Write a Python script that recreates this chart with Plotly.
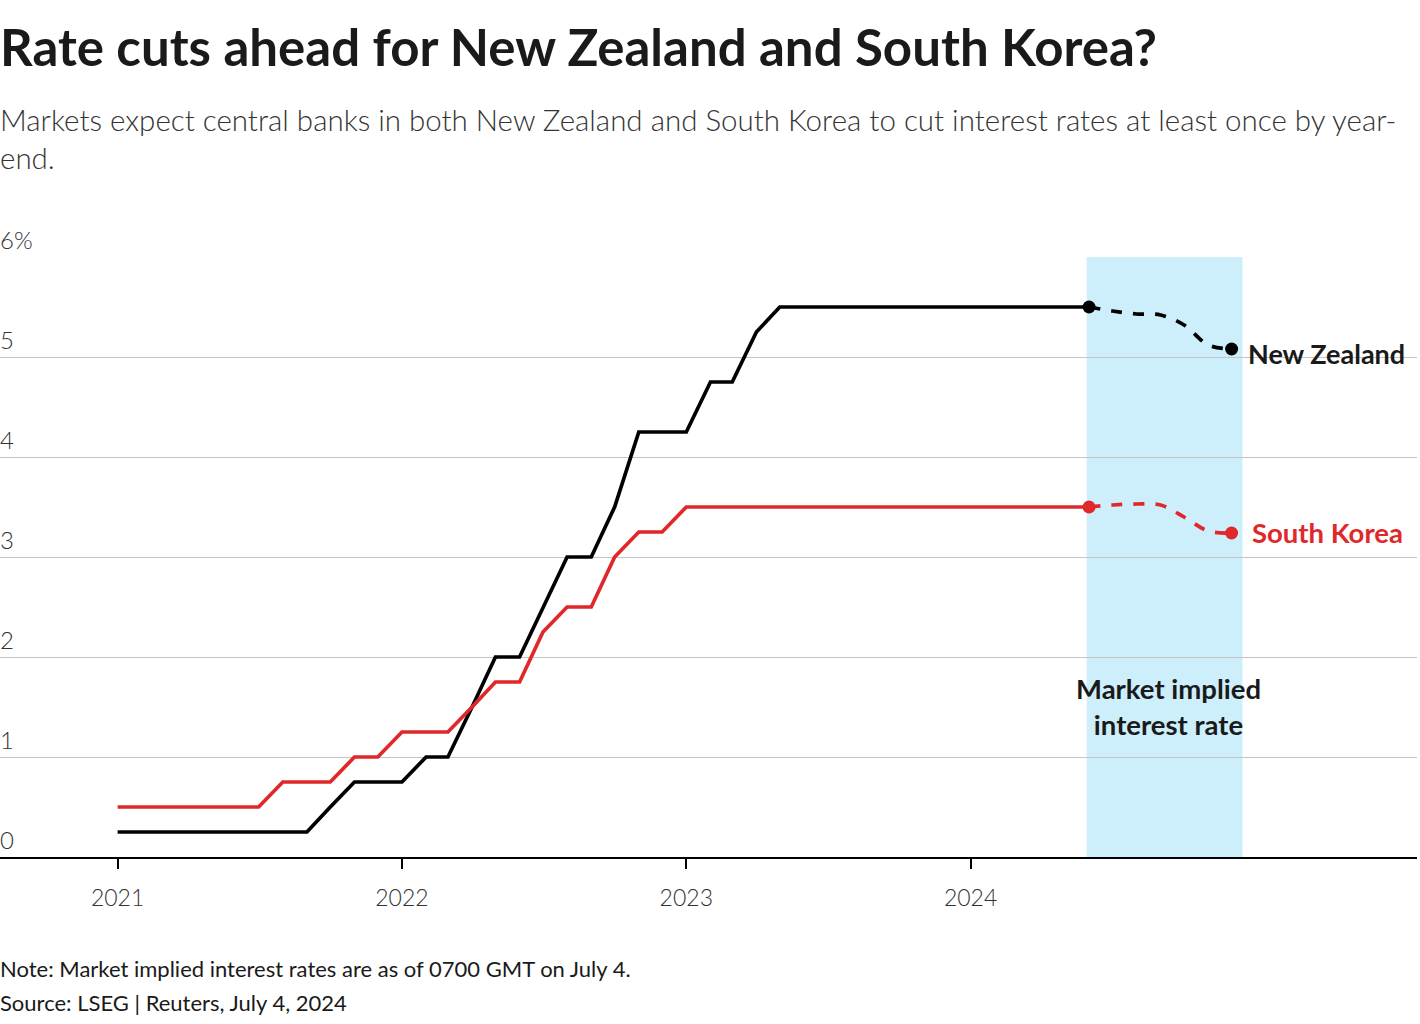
import plotly.graph_objects as go
import pandas as pd

# ---- data ----
months = [d.strftime("%Y-%m-%d") for d in pd.date_range("2021-01-01", "2024-06-01", freq="MS")]

nz_rate = [0.25, 0.25, 0.25, 0.25, 0.25, 0.25, 0.25, 0.25, 0.25, 0.5, 0.75, 0.75,
           0.75, 1.0, 1.0, 1.5, 2.0, 2.0, 2.5, 3.0, 3.0, 3.5, 4.25, 4.25,
           4.25, 4.75, 4.75, 5.25, 5.5, 5.5, 5.5, 5.5, 5.5, 5.5, 5.5, 5.5,
           5.5, 5.5, 5.5, 5.5, 5.5, 5.5]
kr_rate = [0.5, 0.5, 0.5, 0.5, 0.5, 0.5, 0.5, 0.75, 0.75, 0.75, 1.0, 1.0,
           1.25, 1.25, 1.25, 1.5, 1.75, 1.75, 2.25, 2.5, 2.5, 3.0, 3.25, 3.25,
           3.5, 3.5, 3.5, 3.5, 3.5, 3.5, 3.5, 3.5, 3.5, 3.5, 3.5, 3.5,
           3.5, 3.5, 3.5, 3.5, 3.5, 3.5]

fc_months = ["2024-06-01", "2024-07-01", "2024-08-01", "2024-09-01",
             "2024-10-01", "2024-11-01", "2024-12-01"]
nz_implied = [5.5, 5.46, 5.43, 5.42, 5.32, 5.12, 5.08]
kr_implied = [3.5, 3.52, 3.53, 3.52, 3.4, 3.26, 3.24]

year_ticks = ["2021-01-01", "2022-01-01", "2023-01-01", "2024-01-01"]
year_labels = ["2021", "2022", "2023", "2024"]
y_ticks = [0, 1, 2, 3, 4, 5, 6]
y_labels = ["0", "1", "2", "3", "4", "5", "6%"]

band = ["2024-05-29", "2024-12-15"]

BLACK = "#000000"
RED = "#e0282a"
FONT = "Lato"

fig = go.Figure()

fig.add_shape(type="rect", xref="x", yref="y", x0=band[0], x1=band[1], y0=0, y1=6,
              fillcolor="#cdeffb", line_width=0, layer="below")

fig.add_trace(go.Scatter(x=months, y=nz_rate, mode="lines",
                         line=dict(color=BLACK, width=3.7), showlegend=False))
fig.add_trace(go.Scatter(x=months, y=kr_rate, mode="lines",
                         line=dict(color=RED, width=3.7), showlegend=False))
fig.add_trace(go.Scatter(x=fc_months, y=nz_implied, mode="lines",
                         line=dict(color=BLACK, width=3.7, dash="dash", shape="spline"),
                         showlegend=False))
fig.add_trace(go.Scatter(x=fc_months, y=kr_implied, mode="lines",
                         line=dict(color=RED, width=3.7, dash="dash", shape="spline"),
                         showlegend=False))
fig.add_trace(go.Scatter(x=[fc_months[0], fc_months[-1]], y=[nz_implied[0], nz_implied[-1]],
                         mode="markers", marker=dict(color=BLACK, size=13), showlegend=False))
fig.add_trace(go.Scatter(x=[fc_months[0], fc_months[-1]], y=[kr_implied[0], kr_implied[-1]],
                         mode="markers", marker=dict(color=RED, size=13), showlegend=False))

# y tick labels, sitting above each gridline at the left edge
for v, lab in zip(y_ticks, y_labels):
    fig.add_annotation(xref="paper", yref="y", x=0, y=v, text=lab, xanchor="left",
                       yanchor="middle", yshift=18, xshift=-2, showarrow=False,
                       font=dict(family=FONT, size=24, color="#333333", weight=300))

fig.add_annotation(x=fc_months[-1], y=nz_implied[-1], text="<b>New Zealand</b>",
                   xanchor="left", yanchor="middle", xshift=14, yshift=-4, showarrow=False,
                   font=dict(family=FONT, size=27, color="#1a1a1a"))
fig.add_annotation(x=fc_months[-1], y=kr_implied[-1], text="<b>South Korea</b>",
                   xanchor="left", yanchor="middle", xshift=18, yshift=1, showarrow=False,
                   font=dict(family=FONT, size=27.5, color=RED))
fig.add_annotation(x="2024-09-11", y=1.51, text="<b>Market implied<br>interest rate</b>",
                   xanchor="center", yanchor="middle", showarrow=False, align="center",
                   font=dict(family=FONT, size=27.5, color="#1a1a1a"))

fig.add_annotation(xref="paper", yref="paper", x=0, y=1, xanchor="left", yanchor="top",
                   yshift=257 - 14, xshift=-2, showarrow=False, align="left",
                   text="<b>Rate cuts ahead for New Zealand and South Korea?</b>",
                   font=dict(family=FONT, size=51, color="#1a1a1a"))
fig.add_annotation(xref="paper", yref="paper", x=0, y=1, xanchor="left", yanchor="top",
                   yshift=257 - 100, xshift=-2, showarrow=False, align="left",
                   text="Markets expect central banks in both New Zealand and South Korea to cut interest rates at least once by year-<br>end.",
                   font=dict(family=FONT, size=29.5, color="#333333", weight=300))
fig.add_annotation(xref="paper", yref="paper", x=0, y=0, xanchor="left", yanchor="top",
                   yshift=-(953 - 857), xshift=-2, showarrow=False, align="left",
                   text="Note: Market implied interest rates are as of 0700 GMT on July 4.",
                   font=dict(family=FONT, size=22, color="#1a1a1a"))
fig.add_annotation(xref="paper", yref="paper", x=0, y=0, xanchor="left", yanchor="top",
                   yshift=-(987 - 857), xshift=-2, showarrow=False, align="left",
                   text="Source: LSEG | Reuters, July 4, 2024",
                   font=dict(family=FONT, size=22, color="#1a1a1a"))

fig.update_layout(
    width=1420, height=1024,
    margin=dict(l=0, r=3, t=257, b=167),
    plot_bgcolor="white", paper_bgcolor="white",
    font=dict(family=FONT),
    xaxis=dict(type="date", range=["2020-08-03", "2025-07-27"],
               tickvals=year_ticks, ticktext=year_labels,
               showgrid=False, zeroline=False,
               showline=True, linecolor=BLACK, linewidth=2,
               ticks="outside", ticklen=10, tickwidth=2, tickcolor=BLACK,
               tickfont=dict(family=FONT, size=23, color="#333333", weight=300),
               ticklabelstandoff=9),
    yaxis=dict(range=[0, 6], tickvals=y_ticks, showticklabels=False,
               showgrid=True, gridcolor="#c4c4c4", gridwidth=1,
               zeroline=False, showline=False, ticks=""),
)

fig.write_html("out.html", config={"displayModeBar": False},
               post_script="document.body.style.margin='0';")
